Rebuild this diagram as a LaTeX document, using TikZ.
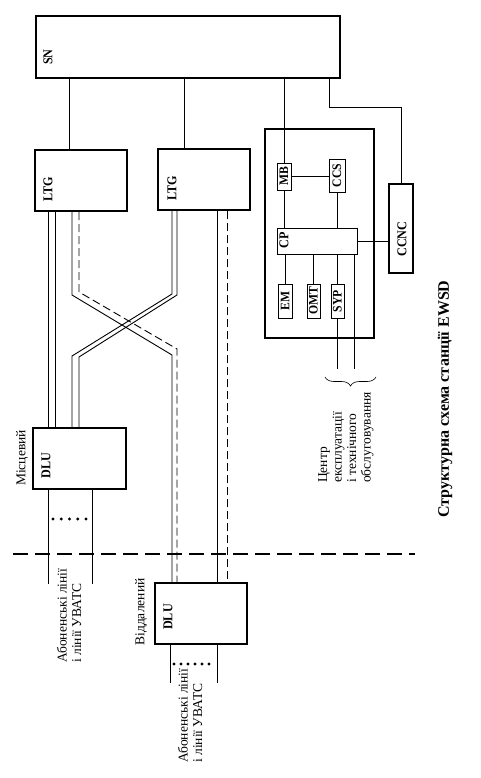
\documentclass[tikz,border=0pt]{standalone}
\usepackage{fontspec}
\setmainfont{Liberation Serif}
\newfontfamily\narrowfont[FakeStretch=0.9]{Liberation Serif}
\usetikzlibrary{decorations.pathreplacing}

\begin{document}
\begin{tikzpicture}[x=1pt,y=-1pt,
    blk/.style={draw, line width=2pt, inner sep=0pt},
    sblk/.style={draw, line width=0.9pt, inner sep=0pt, font=\narrowfont\bfseries\fontsize{13}{13}\selectfont},
    nm/.style={rotate=90, inner sep=0pt, font=\narrowfont\bfseries\fontsize{13.5}{13.5}\selectfont},
    txt/.style={rotate=90, inner sep=0pt, align=left, font=\fontsize{13.5}{14.5}\selectfont},
    ln/.style={line width=0.9pt},
    dln/.style={line width=0.9pt, dash pattern=on 8pt off 4pt}]

    \useasboundingbox (0,0) rectangle (480,778);

    % great blocks
    \node[blk, minimum width=304, minimum height=62] (sn) at (188,47) {};
    \node[blk, minimum width=92, minimum height=61] (ltgA) at (81,180.5) {};
    \node[blk, minimum width=92, minimum height=61] (ltgB) at (204,179.5) {};
    \node[blk, minimum width=109, minimum height=209] (om) at (319.5,233.5) {};
    \node[blk, minimum width=24, minimum height=89] (ccnc) at (401,228.5) {};
    \node[blk, minimum width=93, minimum height=61] (dluA) at (79.5,458.5) {};
    \node[blk, minimum width=92, minimum height=61] (dluB) at (201,613.5) {};

    % small blocks
    \node[sblk, minimum width=14, minimum height=27] (mb) at (284,176.5) {\rotatebox{90}{MB}};
    \node[sblk, minimum width=16, minimum height=33] (ccs) at (337,175.5) {\rotatebox{90}{CCS}};
    \node[sblk, minimum width=80, minimum height=26] (cp) at (317,241) {};
    \node[sblk, minimum width=14, minimum height=34] (em) at (285,301) {\rotatebox{90}{EM}};
    \node[sblk, minimum width=13, minimum height=34] (omt) at (313.5,301) {\rotatebox{90}{OMT}};
    \node[sblk, minimum width=13, minimum height=34] (syp) at (337.5,301) {\rotatebox{90}{SYP}};

    % names
    \node[nm] (snl) at (48,57) {SN};
    \node[nm] (ltgAl) at (48,189.5) {LTG};
    \node[nm] (ltgBl) at (172,188.5) {LTG};
    \node[nm] (cpl) at (284,240) {CP};
    \node[nm] (ccncl) at (402,239) {CCNC};
    \node[nm] (dluAl) at (46,465.5) {DLU};
    \node[nm] (dluBl) at (168,617) {DLU};

    % SN links
    \draw[ln] (sn.south -| 69.5,0) -- (ltgA.north -| 69.5,0);
    \draw[ln] (sn.south -| 184,0) -- (ltgB.north -| 184,0);
    \draw[ln] (sn.south -| mb.north) -- (mb.north);
    \draw[ln] (sn.south -| 329,0) -- (329,107) -| (ccnc.north);

    % inside the O&M block
    \draw[ln] (mb.east) -- (mb.east -| ccs.west);
    \draw[ln] (mb.south) -- (cp.north -| mb.south);
    \draw[ln] (ccs.south) -- (cp.north -| ccs.south);
    \draw[ln] (cp.east) -- (cp.east -| ccnc.west);
    \draw[ln] (cp.south -| em.north) -- (em.north);
    \draw[ln] (cp.south -| omt.north) -- (omt.north);
    \draw[ln] (cp.south -| syp.north) -- (syp.north);
    \draw[ln] (syp.south) -- (syp.south |- 0,369) coordinate (sypE);
    \draw[ln] (cp.south -| 354,0) -- (354,369) coordinate (cpE);
    \draw[decorate, decoration={brace, amplitude=9pt}, line width=0.6pt] (376,377) -- (325,377);

    % LTG -- DLU
    \draw[ln] (ltgA.south -| 48,0) -- (dluA.north -| 48,0);
    \draw[ln] (ltgA.south -| 55,0) -- (dluA.north -| 55,0);
    \draw[ln] (ltgA.south -| 72,0) -- (72,295) -- (172,355) -- (dluB.north -| 172,0);
    \draw[dln] (ltgA.south -| 79,0) -- (79,292) -- (177,349) -- (dluB.north -| 177,0);
    \draw[ln] (ltgB.south -| 172,0) -- (172,294) -- (72,356) -- (dluA.north -| 72,0);
    \draw[ln] (ltgB.south -| 177,0) -- (177,295) -- (79,357) -- (dluA.north -| 79,0);
    \draw[ln] (ltgB.south -| 217,0) -- (dluB.north -| 217,0);
    \draw[dln] (ltgB.south -| 227,0) -- (dluB.north -| 227,0);

    % subscriber lines
    \draw[ln] (dluA.south -| 48,0) -- (48,584);
    \draw[ln] (dluA.south -| 92,0) -- (92,584);
    \foreach \i in {0,...,4} \fill (53+8.25*\i,519) circle (1.7pt);
    \draw[ln] (dluB.south -| 170,0) -- (170,683);
    \draw[ln] (dluB.south -| 217,0) -- (217,683);
    \foreach \i in {0,...,5} \fill (174+7*\i,664) circle (1.7pt);

    \draw[line width=2.5pt, dash pattern=on 15pt off 7pt] (13,554) -- (415,554);

    % texts
    \node[txt] (misc) at (22,458) {Місцевий};
    \node[txt] (vidd) at (141,612) {Віддалений};
    \node[txt, anchor=west] (abA) at (69,663) {Абоненські лінії\\і лінії УВАТС};
    \node[txt, anchor=west] (abB) at (190,763) {Абоненські лінії\\і лінії УВАТС};
    \node[txt, anchor=west] (centr) at (346,483) {Центр\\експлуатації\\і технічного\\обслуговування};
    \node[rotate=90, inner sep=0pt, font=\bfseries\fontsize{16}{16}\selectfont] (title) at (445,399) {Структурна схема станції EWSD};

\end{tikzpicture}
\end{document}
